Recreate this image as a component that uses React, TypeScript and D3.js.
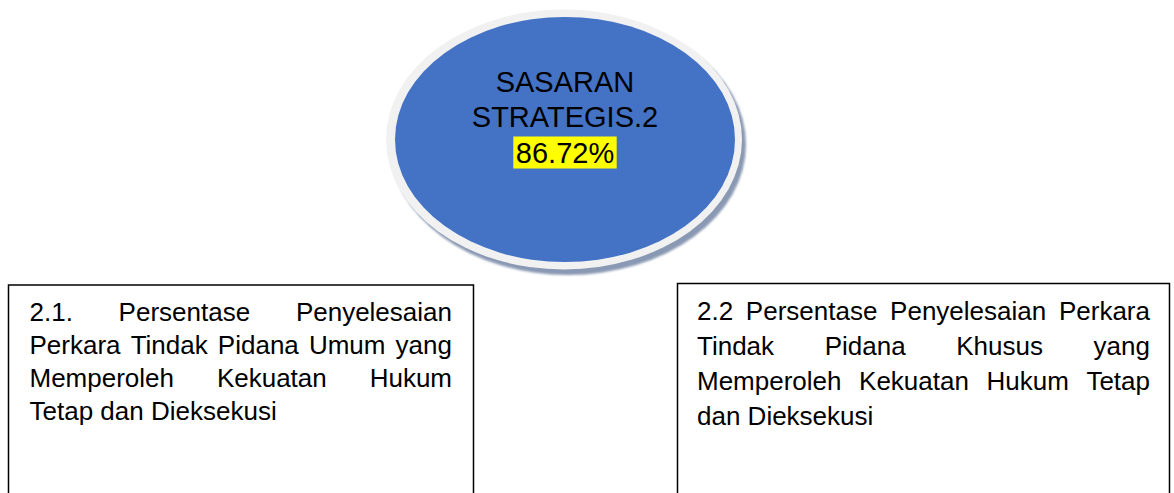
import { useEffect, useRef } from 'react';
import * as d3 from 'd3';

// text content of the diagram
const goalLines = ["SASARAN", "STRATEGIS.2"];
const goalValue = "86.72%";
const leftIndicator = [
    "2.1. Persentase Penyelesaian",
    "Perkara Tindak Pidana Umum yang",
    "Memperoleh Kekuatan Hukum",
    "Tetap dan Dieksekusi"
];
const rightIndicator = [
    "2.2 Persentase Penyelesaian Perkara",
    "Tindak Pidana Khusus yang",
    "Memperoleh Kekuatan Hukum Tetap",
    "dan Dieksekusi"
];

const WIDTH = 1174;
const HEIGHT = 493;
const FONT = "'Liberation Sans', Arial, sans-serif";

export default function App() {
    const svgRef = useRef<SVGSVGElement>(null);

    useEffect(() => {
        const svg = d3.select(svgRef.current);
        svg.selectAll("*").remove();

        // ---- ellipse ----
        const cx = 565, cy = 139.5, rx = 170, ry = 122.5;

        const defs = svg.append("defs");
        defs.append("filter")
            .attr("id", "soft")
            .attr("x", "-10%").attr("y", "-10%")
            .attr("width", "120%").attr("height", "120%")
            .append("feGaussianBlur")
            .attr("stdDeviation", 1.2);

        svg.append("ellipse")
            .attr("cx", cx + 3).attr("cy", cy + 5)
            .attr("rx", rx + 8).attr("ry", ry + 8)
            .attr("fill", "#8a99b3")
            .attr("filter", "url(#soft)");

        svg.append("ellipse")
            .attr("cx", cx - 1).attr("cy", cy)
            .attr("rx", rx + 8).attr("ry", ry + 7.5)
            .attr("fill", "#f1f1f1");

        svg.append("ellipse")
            .attr("cx", cx).attr("cy", cy)
            .attr("rx", rx).attr("ry", ry)
            .attr("fill", "#4472c4");

        const y = d3.scaleLinear().domain([0, 2]).range([91.5, 162.5]);

        goalLines.forEach((t, i) => {
            svg.append("text")
                .attr("x", cx).attr("y", y(i))
                .attr("text-anchor", "middle")
                .style("font-family", FONT)
                .style("font-size", "29px")
                .attr("fill", "#000")
                .text(t);
        });

        const hl = svg.append("rect").attr("fill", "#ffff00");
        const val = svg.append("text")
            .attr("x", cx).attr("y", y(2))
            .attr("text-anchor", "middle")
            .style("font-family", FONT)
            .style("font-size", "29px")
            .attr("fill", "#000")
            .text(goalValue);
        const bb = (val.node() as SVGTextElement).getBBox();
        hl.attr("x", bb.x - 2.5).attr("y", bb.y)
            .attr("width", bb.width + 5).attr("height", bb.height);

        // ---- indicator boxes with justified text ----
        const boxes = [
            { lines: leftIndicator, x0: 8.5, x1: 473.5, top: 285, textL: 29.5, textR: 452, base: 321, step: 33 },
            { lines: rightIndicator, x0: 677.5, x1: 1169.5, top: 283.5, textL: 697, textR: 1150, base: 320, step: 35 }
        ];

        boxes.forEach(b => {
            svg.append("path")
                .attr("d", `M${b.x0},${HEIGHT + 5}V${b.top}H${b.x1}V${HEIGHT + 5}`)
                .attr("fill", "none")
                .attr("stroke", "#000")
                .attr("stroke-width", 1.5);

            const g = svg.append("g")
                .style("font-family", FONT)
                .style("font-size", "26px")
                .attr("fill", "#000");

            b.lines.forEach((line, li) => {
                const words = line.split(" ");
                const ly = b.base + li * b.step;
                const nodes = words.map(w => g.append("text").attr("y", ly).text(w));
                const widths = nodes.map(n => (n.node() as SVGTextElement).getComputedTextLength());
                const last = li === b.lines.length - 1;
                const space = (nodes[0].node() as SVGTextElement).getComputedTextLength() > 0
                    ? 26 * 0.278 : 7;
                const gap = last || words.length < 2
                    ? space
                    : (b.textR - b.textL - d3.sum(widths)) / (words.length - 1);
                let x = b.textL;
                nodes.forEach((n, i) => {
                    n.attr("x", x);
                    x += widths[i] + gap;
                });
            });
        });
    }, []);

    return (
        <svg
            ref={svgRef}
            width={WIDTH}
            height={HEIGHT}
            style={{ position: "absolute", left: 0, top: 0, display: "block", background: "#fff" }}
        />
    );
}
